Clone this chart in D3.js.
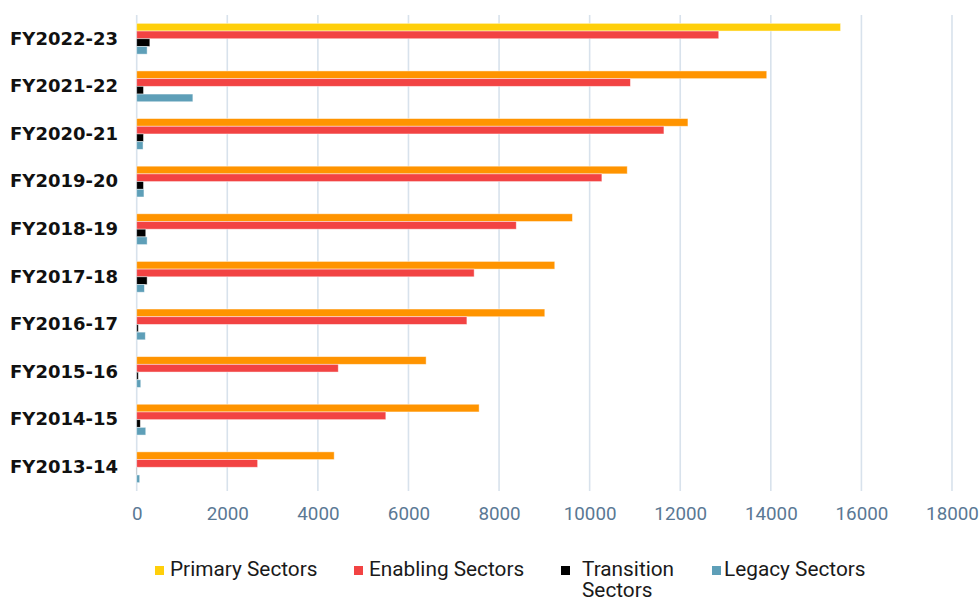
<!DOCTYPE html>
<html>
<head>
<meta charset="utf-8">
<script src="https://cdn.jsdelivr.net/npm/d3@7"></script>
<style>
  html, body { margin: 0; padding: 0; background: #fff; }
  svg { display: block; }
</style>
</head>
<body>
<svg id="chart" width="980" height="601"></svg>
<script>
// Fiscal years, newest first (top of the chart)
const years = ["FY2022-23", "FY2021-22", "FY2020-21", "FY2019-20", "FY2018-19",
               "FY2017-18", "FY2016-17", "FY2015-16", "FY2014-15", "FY2013-14"];

// Series values per year
const primary    = [15540, 13910, 12170, 10830, 9620, 9230, 9010, 6390, 7560, 4360];
const enabling   = [12850, 10900, 11640, 10270, 8380, 7450, 7290, 4450, 5500, 2670];
const transition = [290, 150, 150, 150, 200, 230, 36, 36, 80, 5];
const legacy     = [230, 1240, 140, 160, 230, 170, 190, 90, 200, 66];

const seriesNames = ["Primary Sectors", "Enabling Sectors", "Transition Sectors", "Legacy Sectors"];
const xTicks = [0, 2000, 4000, 6000, 8000, 10000, 12000, 14000, 16000, 18000];

const seriesData = [primary, enabling, transition, legacy];
const seriesColors = ["#FFCF0A", "#F24343", "#000000", "#5E9FB8"];
const primaryOrange = "#FF9400";

const svg = d3.select("#chart");

const x = d3.scaleLinear().domain([0, 18000]).range([136.7, 952]);
const y = d3.scaleBand().domain(years).range([15, 491])
  .paddingInner(0.353).paddingOuter(0.175);
const ySub = d3.scaleBand().domain(d3.range(4)).range([0, y.bandwidth()]);

// Vertical gridlines
svg.append("g").selectAll("line").data(xTicks).join("line")
  .attr("x1", d => x(d)).attr("x2", d => x(d))
  .attr("y1", 15).attr("y2", 491)
  .attr("stroke", "#D8E2EC").attr("stroke-width", 1.6);

// X axis labels
const xAxis = d3.axisBottom(x).tickValues(xTicks).tickFormat(d3.format("d")).tickSize(0).tickPadding(0);
const gx = svg.append("g").attr("transform", "translate(0,507)").call(xAxis);
gx.select(".domain").remove();
gx.selectAll("text")
  .attr("dy", "0.71em")
  .attr("fill", "#5A7894")
  .style("font-family", "Roboto, sans-serif")
  .style("font-size", "18.8px");

// Category labels
const yAxis = d3.axisLeft(y).tickSize(0).tickPadding(0);
const gy = svg.append("g").attr("transform", "translate(118,0)").call(yAxis);
gy.select(".domain").remove();
gy.selectAll("text")
  .attr("fill", "#111")
  .style("font-family", "'DejaVu Sans', sans-serif")
  .style("font-weight", "bold")
  .style("font-size", "18px");

// Bars
const groups = svg.append("g").selectAll("g").data(years).join("g")
  .attr("transform", d => `translate(0,${y(d)})`);

groups.each(function(yr, i) {
  const g = d3.select(this);
  seriesData.forEach((vals, s) => {
    let fill = seriesColors[s];
    if (s === 0 && i !== 0) fill = primaryOrange;
    g.append("rect")
      .attr("x", x(0))
      .attr("y", ySub(s))
      .attr("width", Math.max(0, x(vals[i]) - x(0)))
      .attr("height", ySub.bandwidth())
      .attr("fill", fill)
      .attr("stroke", "rgba(255,255,255,0.55)")
      .attr("stroke-width", 0.8);
  });
});

// Legend
const legendItems = [
  { lines: ["Primary Sectors"], sx: 155, tx: 170 },
  { lines: ["Enabling Sectors"], sx: 354, tx: 369 },
  { lines: ["Transition", "Sectors"], sx: 561, tx: 582 },
  { lines: ["Legacy Sectors"], sx: 712, tx: 724 }
];
const lg = svg.append("g");
legendItems.forEach((it, k) => {
  lg.append("rect")
    .attr("x", it.sx).attr("y", 566)
    .attr("width", 9).attr("height", 9)
    .attr("fill", seriesColors[k]);
  const t = lg.append("text")
    .attr("x", it.tx).attr("y", 576)
    .attr("fill", "#1a1a1a")
    .style("font-family", "Roboto, sans-serif")
    .style("font-size", "20.8px");
  it.lines.forEach((ln, j) => {
    t.append("tspan").attr("x", it.tx).attr("dy", j === 0 ? 0 : 20.5).text(ln);
  });
});
</script>
</body>
</html>
